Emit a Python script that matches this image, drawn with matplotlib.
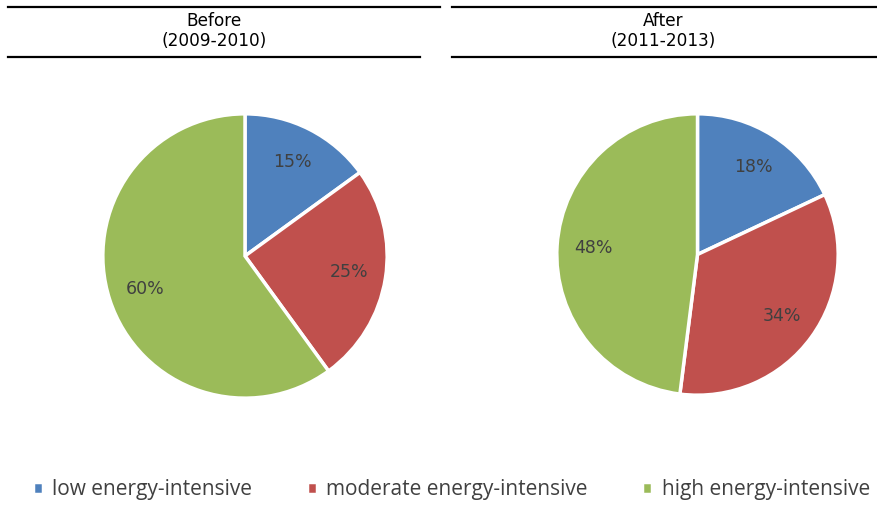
import matplotlib
matplotlib.use('Agg')
import matplotlib.pyplot as plt
from matplotlib.lines import Line2D

categories = ['low energy-intensive', 'moderate energy-intensive', 'high energy-intensive']
before_vals = [15, 25, 60]
after_vals = [18, 34, 48]
titles = ['Before\n(2009-2010)', 'After\n(2011-2013)']
colors = ['#4F81BD', '#C0504D', '#9BBB59']

W, H = 878, 509
fig = plt.figure(figsize=(W / 100, H / 100), dpi=100)


def px_axes(x0, y0, w, h):
    return fig.add_axes([x0 / W, 1 - (y0 + h) / H, w / W, h / H])


def draw_pie(ax, vals):
    wedges, texts, autotexts = ax.pie(
        vals, colors=colors, startangle=90, counterclock=False,
        autopct='%d%%', pctdistance=0.74, radius=1.0,
        wedgeprops=dict(edgecolor='white', linewidth=2.5),
        textprops=dict(fontsize=12.5, color='#404040'))
    ax.set_xlim(-1.02, 1.02)
    ax.set_ylim(-1.02, 1.02)
    return wedges


ax1 = px_axes(100, 111, 290, 290)
wedges = draw_pie(ax1, before_vals)
ax2 = px_axes(554, 111, 287, 287)
draw_pie(ax2, after_vals)

# header lines and titles
for (xa, xb, yy) in [(8, 440, 7), (8, 420, 57), (452, 878, 7), (452, 878, 57)]:
    fig.add_artist(Line2D([xa / W, xb / W], [1 - yy / H, 1 - yy / H],
                          color='black', linewidth=1.6))
fig.text(214 / W, 1 - 31 / H, titles[0], ha='center', va='center',
         fontsize=12.2, linespacing=1.2)
fig.text(663 / W, 1 - 31 / H, titles[1], ha='center', va='center',
         fontsize=12.2, linespacing=1.2)

fig.legend(wedges, categories, loc='center', bbox_to_anchor=(0.514, 1 - 490 / H),
           ncol=3, frameon=False, handlelength=0.5, handleheight=0.55,
           handletextpad=0.45, columnspacing=2.6,
           prop=dict(family=['Open Sans'], size=15),
           labelcolor='#404040')

fig.savefig('out.png', dpi=100)
